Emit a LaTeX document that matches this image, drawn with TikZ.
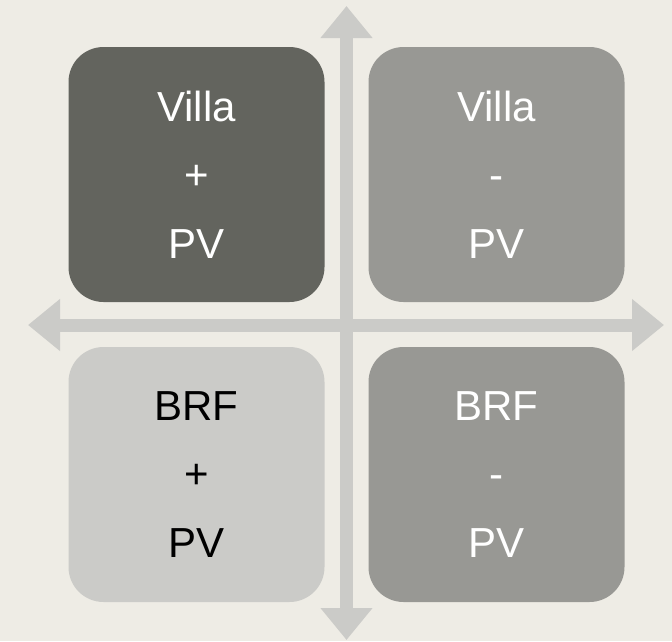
\documentclass[tikz,border=0pt]{standalone}
\usepackage{fontspec}
\setmainfont{Liberation Sans}
\usetikzlibrary{arrows.meta}

\definecolor{paper}{HTML}{EEECE5}
\definecolor{axisgray}{HTML}{CBCBC8}
\definecolor{darkbox}{HTML}{63645E}
\definecolor{midbox}{HTML}{989894}
\definecolor{lightbox}{HTML}{CBCBC8}

\begin{document}
\begin{tikzpicture}[
    x=1pt, y=-1pt,
    quad/.style={rounded corners=35pt,minimum width=256pt,minimum height=255pt,
                 inner sep=0pt,align=center,text=white,
                 font=\fontsize{42}{68.5}\selectfont},
    axis/.style={draw=axisgray,line width=13pt,
                 {Triangle[width=50pt,length=32pt]}-{Triangle[width=50pt,length=32pt]}}
]

% canvas
\fill[paper] (0,0) rectangle (672,641);
\useasboundingbox (0,0) rectangle (672,641);

% axes
\coordinate (top)    at (346.5,6);
\coordinate (bottom) at (346.5,640);
\coordinate (left)   at (28,325);
\coordinate (right)  at (664,325);
\draw[axis] (bottom) -- (top);
\draw[axis] (left) -- (right);

% quadrants
\node[quad,fill=darkbox]  (villaplus)  at (196.5,174.5) {Villa\\+\\PV};
\node[quad,fill=midbox]   (villaminus) at (496.5,174.5) {Villa\\-\\PV};
\node[quad,fill=lightbox,text=black] (brfplus) at (196.5,474.5) {BRF\\+\\PV};
\node[quad,fill=midbox]   (brfminus)   at (496.5,474.5) {BRF\\-\\PV};

\end{tikzpicture}
\end{document}
